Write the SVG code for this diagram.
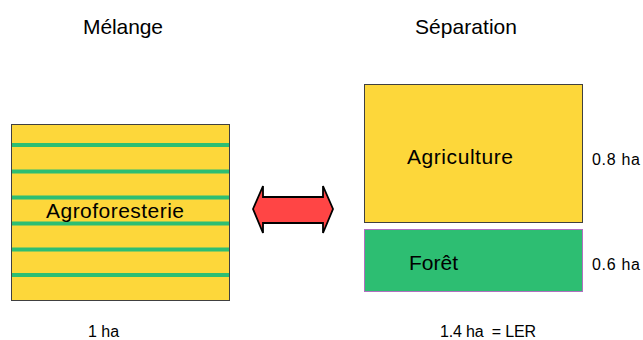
<svg xmlns="http://www.w3.org/2000/svg" width="643" height="340" viewBox="0 0 643 340">
<style>
text{font-family:"Liberation Sans",Arial,sans-serif;fill:#000}
.t{font-size:21px}
.s{font-size:16px}
.y{fill:#FDD73A;stroke:#404040;stroke-width:1}
.stripe{stroke:#2DBE72;stroke-width:4}
</style>
<rect width="643" height="340" fill="#fff"/>
<text class="t" x="83" y="34" textLength="80">Mélange</text>
<text class="t" x="415" y="34" textLength="102">Séparation</text>
<g id="agroforesterie">
<rect class="y" x="11.5" y="124.5" width="218" height="176"/>
<g class="stripe">
<line x1="12" y1="145" x2="229" y2="145"/>
<line x1="12" y1="171.5" x2="229" y2="171.5"/>
<line x1="12" y1="197.5" x2="229" y2="197.5"/>
<line x1="12" y1="223.5" x2="229" y2="223.5"/>
<line x1="12" y1="249.5" x2="229" y2="249.5"/>
<line x1="12" y1="275" x2="229" y2="275"/>
</g>
<text class="t" x="46" y="218" textLength="138">Agroforesterie</text>
</g>
<g id="connectors">
<path d="M253,209 L263,186 L263,197 L323,197 L323,186 L333,209 L323,233 L323,223 L263,223 L263,233 Z" fill="#FF4545" stroke="#000" stroke-width="1.8" stroke-linejoin="miter"/>
</g>
<g id="agriculture">
<rect class="y" x="364.5" y="84.5" width="218" height="138"/>
<text class="t" x="407" y="164" textLength="106">Agriculture</text>
</g>
<g id="foret">
<rect x="364.5" y="229.5" width="218" height="62" fill="#2DBE72" stroke="#B070C0" stroke-width="1"/>
<text class="t" x="409" y="270" textLength="49">Forêt</text>
</g>
<text class="s" x="592" y="165" textLength="48">0.8 ha</text>
<text class="s" x="592" y="270" textLength="48">0.6 ha</text>
<text class="s" x="88" y="337">1 ha</text>
<text class="s" x="440" y="337" textLength="96" xml:space="preserve">1.4 ha  = LER</text>
</svg>
